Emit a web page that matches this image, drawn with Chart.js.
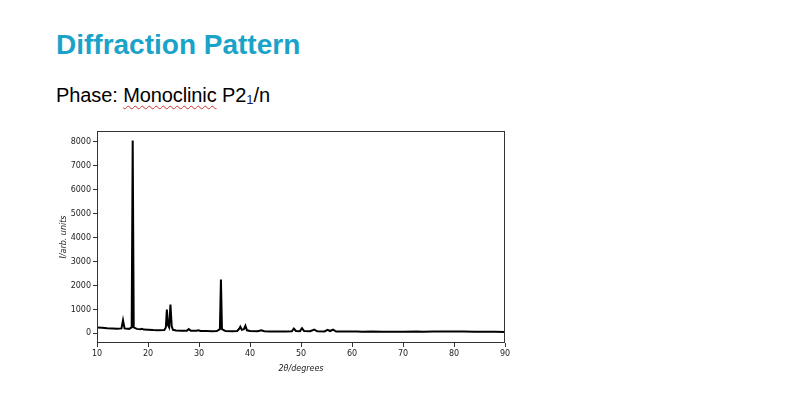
<!DOCTYPE html>
<html>
<head>
<meta charset="utf-8">
<script src="https://cdn.jsdelivr.net/npm/chart.js@4.4.0/dist/chart.umd.min.js"></script>
<style>
  body { margin: 0; background: #fff; width: 799px; height: 405px; overflow: hidden; position: relative; font-family: "Liberation Sans", sans-serif; }
  #title { position: absolute; left: 56px; top: 29px; font-size: 28px; font-weight: bold; color: #1aa3c9; }
  #phase { position: absolute; left: 56px; top: 84px; font-size: 20px; color: #000; letter-spacing: -0.1px; }
  #phase .sp { text-decoration: underline wavy #d03030; text-decoration-thickness: 1px; text-underline-offset: 3px; }
  #phase sub { font-size: 13px; color: #1a1a60; vertical-align: -2px; }
  #box { position: absolute; left: 50px; top: 124px; width: 470px; height: 250px; }
</style>
</head>
<body>
<div id="title">Diffraction Pattern</div>
<div id="phase">Phase: <span class="sp">Monoclinic</span> P2<sub>1</sub>/n</div>
<div id="box"><canvas id="myChart"></canvas></div>
<script>
var twoTheta = [10, 11, 12, 13, 14, 14.8, 15.1, 15.4, 16.3, 16.8, 17.0, 17.2, 17.8, 18.5, 18.8, 19.2, 20, 21, 22, 23.2, 23.5, 23.7, 23.9, 24.15, 24.4, 24.65, 24.9, 25.5, 26.5, 27.6, 28.0, 28.4, 29.5, 29.9, 30.3, 31.5, 32.5, 33.5, 34.1, 34.3, 34.5, 35.2, 36.5, 37.5, 37.9, 38.1, 38.4, 38.8, 39.1, 39.4, 40, 41.5, 42.2, 42.8, 44, 45.5, 47, 48.2, 48.6, 49.0, 49.8, 50.2, 50.6, 51.8, 52.6, 53.2, 54.6, 55.2, 55.7, 56.3, 56.9, 58, 60, 61, 62, 64, 66, 68, 70, 72.6, 74, 76, 78, 80, 82, 84, 86, 88, 90];
var intensity = [250, 240, 220, 210, 200, 210, 550, 210, 190, 250, 8050, 250, 190, 170, 190, 160, 150, 140, 135, 140, 250, 1000, 350, 250, 1200, 300, 150, 120, 115, 110, 180, 110, 110, 130, 100, 100, 95, 100, 180, 2250, 180, 100, 95, 100, 200, 280, 150, 180, 320, 130, 100, 95, 130, 90, 85, 85, 85, 90, 200, 100, 95, 220, 100, 90, 160, 90, 85, 150, 100, 160, 80, 75, 75, 80, 70, 75, 70, 70, 70, 80, 70, 75, 75, 75, 75, 70, 70, 65, 60];
var xTicks = [10, 20, 30, 40, 50, 60, 70, 80, 90];
var yTicks = [0, 1000, 2000, 3000, 4000, 5000, 6000, 7000, 8000];

var points = [];
for (var i = 0; i < twoTheta.length; i++) {
  points.push({ x: twoTheta[i], y: intensity[i] });
}

// frame round the plot area, like the original
var framePlugin = {
  id: "frame",
  afterDraw: function (chart) {
    var a = chart.chartArea;
    var ctx = chart.ctx;
    ctx.save();
    ctx.strokeStyle = "#333";
    ctx.lineWidth = 1;
    ctx.strokeRect(Math.round(a.left) + 0.5, Math.round(a.top) + 0.5, Math.round(a.right - a.left) - 1, Math.round(a.bottom - a.top) - 1);
    ctx.restore();
  }
};

var tickFont = { size: 8, family: "DejaVu Sans" };

var ctx = document.getElementById("myChart").getContext("2d");
var chart = new Chart(ctx, {
  type: "line",
  data: {
    datasets: [
      {
        data: points,
        borderColor: "#000",
        borderWidth: 2,
        pointRadius: 0,
        tension: 0,
        fill: false,
      },
    ],
  },
  options: {
    responsive: true,
    maintainAspectRatio: false,
    animation: false,
    layout: { padding: { top: 7, right: 15, left: 0, bottom: 0 } },
    plugins: { legend: { display: false }, tooltip: { enabled: false } },
    scales: {
      x: {
        type: "linear",
        min: 10,
        max: 90,
        afterBuildTicks: function (axis) {
          axis.ticks = xTicks.map(function (v) { return { value: v }; });
        },
        afterFit: function (axis) { axis.height = 31; },
        grid: { drawOnChartArea: false, tickLength: 4, color: "#333" },
        border: { display: false },
        ticks: { color: "#222", font: tickFont, padding: 2, maxRotation: 0, callback: function (v) { return String(v); } },
        title: { display: true, text: "2θ/degrees", color: "#222", font: { size: 8, style: "italic", family: "DejaVu Sans" }, padding: 0 },
      },
      y: {
        type: "linear",
        min: -400,
        max: 8450,
        afterBuildTicks: function (axis) {
          axis.ticks = yTicks.map(function (v) { return { value: v }; });
        },
        afterFit: function (axis) { axis.width = 47; },
        grid: { drawOnChartArea: false, tickLength: 4, color: "#333" },
        border: { display: false },
        ticks: { color: "#222", font: tickFont, padding: 2, callback: function (v) { return String(v); } },
        title: { display: true, text: "I/arb. units", color: "#222", font: { size: 8, style: "italic", family: "DejaVu Sans" }, padding: { top: 9, bottom: 0 } },
      },
    },
  },
  plugins: [framePlugin],
});
</script>
</body>
</html>
